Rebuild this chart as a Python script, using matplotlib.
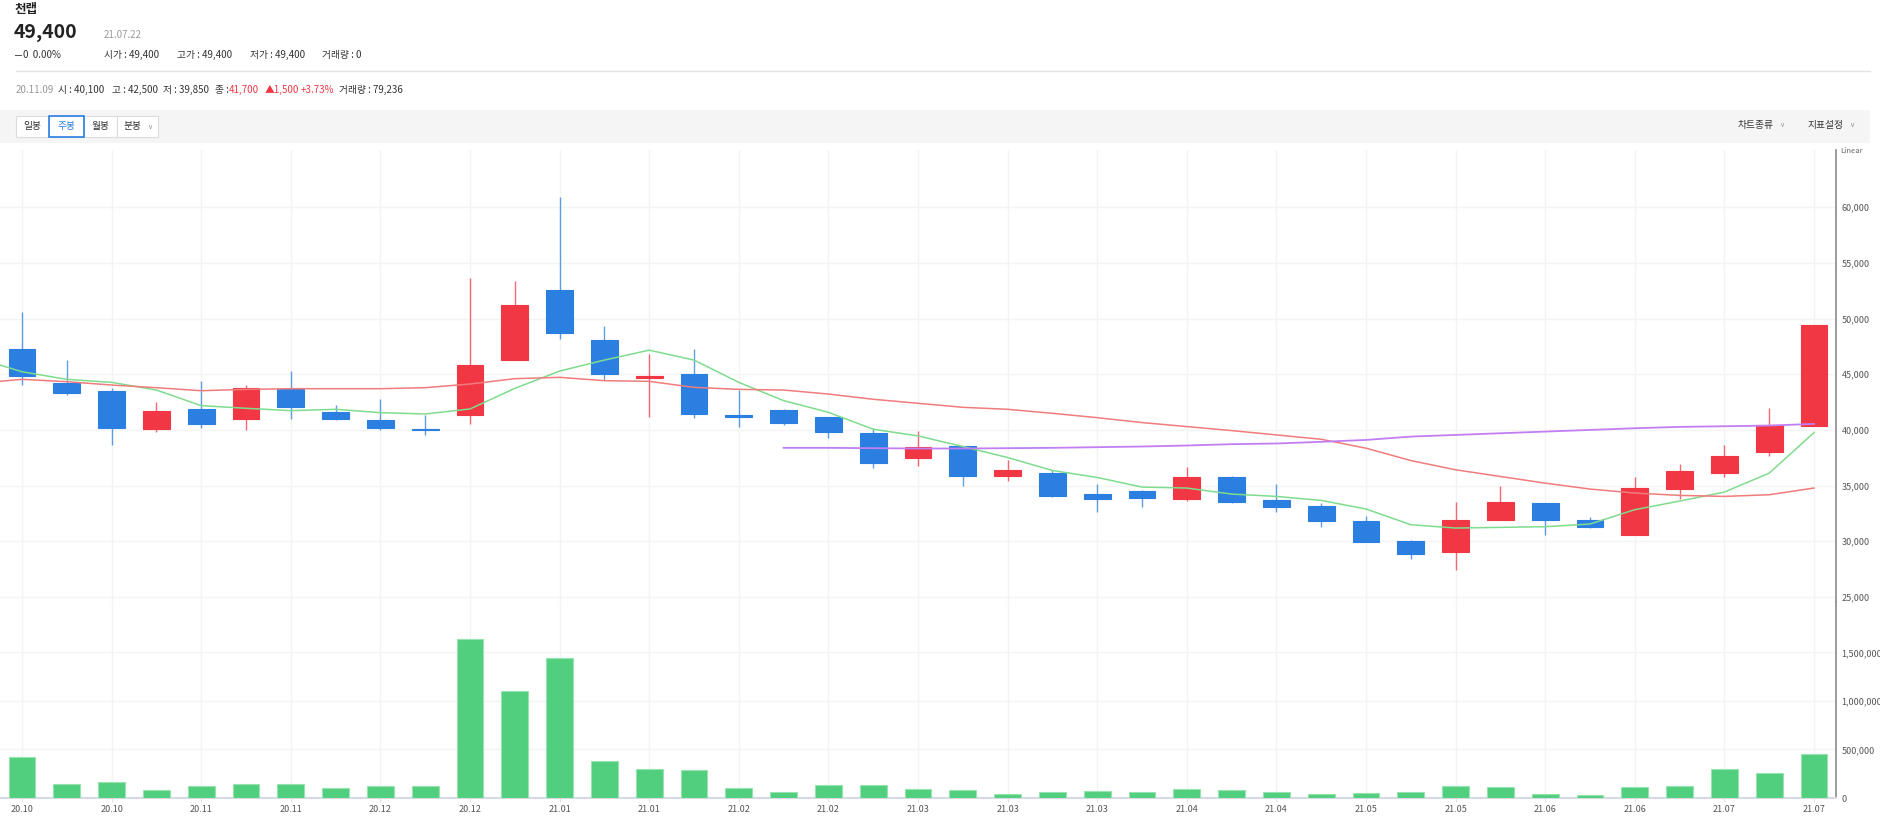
import numpy as np
import matplotlib
matplotlib.use('Agg')
import matplotlib.pyplot as plt
from matplotlib.patches import Rectangle
from matplotlib.lines import Line2D

plt.rcParams['font.family'] = ['Noto Sans CJK KR', 'DejaVu Sans']

W, H = 1880, 822

# weekly candles 20.10 ~ 21.07
opens = [47300, 44250, 43450, 40100, 41850, 40950, 43650, 41650, 40850, 40000,
         41350, 46250, 52600, 48100, 44700, 45000, 41250, 41800, 41150, 39700,
         37450, 38550, 35850, 36100, 34250, 34550, 33800, 35750, 33750, 33150,
         31850, 30000, 29000, 31900, 33450, 31950, 30550, 34700, 36100, 38000,
         40350]
highs = [50600, 46250, 43800, 42500, 44400, 44050, 45300, 42250, 42800, 41300,
         53600, 53350, 60950, 49300, 46850, 47250, 43600, 41850, 41200, 40150,
         39900, 38600, 37300, 36400, 35150, 34650, 36700, 35900, 35100, 33450,
         32300, 30150, 33500, 35000, 33450, 32200, 35750, 36950, 38650, 42000,
         49400]
lows = [44050, 43150, 38650, 39850, 40200, 39950, 41000, 40850, 40000, 39500,
        40550, 46250, 48200, 44500, 41200, 41050, 40300, 40400, 39250, 36550,
        36800, 35000, 35450, 33950, 32600, 33050, 33650, 33450, 32650, 31250,
        29950, 28450, 27400, 31900, 30550, 31150, 30550, 33800, 35750, 37650,
        40350]
closes = [44850, 43300, 40150, 41700, 40550, 43750, 42100, 40950, 40150, 39950,
          45800, 51200, 48700, 45000, 44800, 41450, 41150, 40650, 39800, 37000,
          38500, 35900, 36400, 34050, 33800, 33900, 35750, 33500, 33050, 31850,
          29950, 28850, 31950, 33500, 31900, 31300, 34750, 36350, 37700, 40400,
          49400]
volumes = [422600, 147750, 168400, 79236, 120260, 147750, 147750, 106500, 120260, 120260,
           1642400, 1106400, 1443100, 384800, 298900, 292060, 106500, 58400, 130570, 137440,
           89340, 82460, 44670, 58400, 75600, 65280, 89340, 82460, 65280, 37800,
           51540, 58400, 127130, 113390, 44670, 27490, 109950, 120260, 302370, 261140,
           453550]

# moving averages, first value is the week before the first candle
ma5 = [46450, 45220, 44540, 44270, 43580, 42180, 41940, 41730, 41850, 41550, 41430,
       41880, 43730, 45280, 46270, 47160, 46270, 44270, 42630, 41580, 40060,
       39460, 38510, 37520, 36360, 35730, 34870, 34780, 34240, 34030, 33670,
       32900, 31490, 31190, 31250, 31310, 31550, 32840, 33610, 34420, 36120,
       39760]
ma20 = [44180, 44540, 44330, 44030, 43790, 43520, 43640, 43700, 43700, 43700, 43790,
        44120, 44600, 44720, 44420, 44360, 43820, 43640, 43580, 43220, 42750,
        42390, 42030, 41850, 41490, 41100, 40660, 40300, 39940, 39550, 39160,
        38360, 37250, 36420, 35820, 35220, 34690, 34330, 34120, 34030, 34180,
        34780]
ma60_start = 17
ma60 = [38390, 38390, 38360, 38330, 38330, 38360, 38390, 38450, 38510, 38600,
        38720, 38780, 38930, 39100, 39400, 39550, 39700, 39850, 40000, 40150,
        40270, 40330, 40390, 40540]

tick_labels = ['20.10', '20.10', '20.11', '20.11', '20.12', '20.12', '21.01', '21.01',
               '21.02', '21.02', '21.03', '21.03', '21.03', '21.04', '21.04', '21.05',
               '21.05', '21.06', '21.06', '21.07', '21.07']
price_ticks = [25000, 30000, 35000, 40000, 45000, 50000, 55000, 60000]
vol_ticks = [0, 500000, 1000000, 1500000]

RED = '#f23744'
BLUE = '#2b7fe1'
VOL = '#52cf7e'
GRID = '#f4f4f4'


def fx(x):
    return x / W


def fy(y):
    return 1 - y / H


fig = plt.figure(figsize=(W / 100, H / 100), dpi=100)

ax_p = fig.add_axes([0, fy(602), fx(1836), (602 - 150) / H])
ax_v = fig.add_axes([0, fy(798), fx(1836), (798 - 602) / H], sharex=ax_p)

n = len(opens)
x = np.arange(n)

# candles
for i in range(n):
    o, h, l, c = opens[i], highs[i], lows[i], closes[i]
    col = RED if c >= o else BLUE
    ax_p.vlines(i, l, h, color=col, lw=1, alpha=0.75, zorder=2)
    ax_p.bar(i, max(abs(c - o), 150), bottom=min(o, c), width=0.6, color=col,
             edgecolor=col, lw=0.8, zorder=3)

# moving averages
ax_p.plot(np.arange(-1, n), ma5, color='#7fdc8e', lw=1.1, zorder=4)
ax_p.plot(np.arange(-1, n), ma20, color='#f07c7c', lw=1.1, zorder=4)
ax_p.plot(np.arange(ma60_start, ma60_start + len(ma60)), ma60, color='#c27ef2', lw=1.3, zorder=4)

# volume
ax_v.bar(x, volumes, width=0.6, color=VOL, edgecolor='#98e2b0', lw=0.8, zorder=3)

ax_p.set_xlim(-22 / 44.8, (1836 - 22) / 44.8)
ax_p.set_ylim(24550, 65130)
ax_v.set_ylim(0, 2019000)

for ax in (ax_p, ax_v):
    ax.set_xticks(np.arange(0, n, 2))
    ax.yaxis.tick_right()
    ax.grid(True, color=GRID, lw=1, zorder=0)
    ax.set_axisbelow(True)
    ax.spines['left'].set_visible(False)
    ax.spines['top'].set_visible(False)
    ax.spines['right'].set_color('#8a8a8a')
    ax.spines['right'].set_linewidth(1.2)
    ax.tick_params(axis='y', length=0, pad=4, labelsize=6.5, colors='#555555')

ax_p.set_yticks(price_ticks)
ax_p.set_yticklabels([f'{v:,}' for v in price_ticks])
ax_p.tick_params(axis='x', length=0, labelbottom=False)
ax_p.spines['bottom'].set_color('#e6e6e6')

ax_v.set_yticks(vol_ticks)
ax_v.set_yticklabels([f'{v:,}' for v in vol_ticks])
ax_v.set_xticklabels(tick_labels)
ax_v.tick_params(axis='x', length=3, width=0.8, color='#dfe2ea', pad=2,
                 labelsize=6.5, labelcolor='#555555')
ax_v.spines['bottom'].set_color('#d6dae6')
ax_v.spines['bottom'].set_linewidth(1.5)

fig.text(fx(1840), fy(151), 'Linear', fontsize=5.5, color='#666666', va='center', ha='left')

# header
dark = '#333333'
fig.text(fx(15), fy(9), '천랩', fontsize=9, fontweight='bold', color='#222222', va='center')
fig.text(fx(14), fy(33), '49,400', fontsize=14, fontweight='bold', color='#222222', va='center')
fig.text(fx(104), fy(35), '21.07.22', fontsize=7, color='#999999', va='center')
fig.text(fx(15), fy(55), '━', fontsize=5, color=dark, va='center')
fig.text(fx(23), fy(55), '0  0.00%', fontsize=7, color=dark, va='center')
for xx, s in [(104, '시가 : 49,400'), (177, '고가 : 49,400'), (250, '저가 : 49,400'), (322, '거래량 : 0')]:
    fig.text(fx(xx), fy(55), s, fontsize=7, color=dark, va='center')

fig.add_artist(Line2D([fx(16), fx(1870)], [fy(71), fy(71)], color='#e3e3e3', lw=1))

fig.text(fx(16), fy(90), '20.11.09', fontsize=7, color='#999999', va='center')
for xx, s, col in [(58, '시 : 40,100', dark), (112, '고 : 42,500', dark), (163, '저 : 39,850', dark),
                   (215, '종 :', dark), (229, '41,700', RED), (265, '▲1,500', RED),
                   (301, '+3.73%', RED), (339, '거래량 : 79,236', dark)]:
    fig.text(fx(xx), fy(90), s, fontsize=7, color=col, va='center')

# toolbar
fig.add_artist(Rectangle((0, fy(143)), fx(1870), (143 - 110) / H, transform=fig.transFigure,
                         facecolor='#f5f5f5', edgecolor='none'))
buttons = [(16, 49, '일봉', False), (49, 84, '주봉', True), (84, 117, '월봉', False), (117, 158, '분봉', False)]
for x0, x1, s, sel in buttons:
    fig.add_artist(Rectangle((fx(x0), fy(137)), fx(x1 - x0), (137 - 116) / H, transform=fig.transFigure,
                             facecolor='white', edgecolor='#dcdcdc', lw=0.8))
for x0, x1, s, sel in buttons:
    if sel:
        fig.add_artist(Rectangle((fx(x0), fy(137)), fx(x1 - x0), (137 - 116) / H, transform=fig.transFigure,
                                 facecolor='none', edgecolor=BLUE, lw=1.2))
    cx = (x0 + x1) / 2 if s != '분봉' else 133
    fig.text(fx(cx), fy(126.5), s, fontsize=7, color=BLUE if sel else dark,
             ha='center', va='center')

# small dropdown chevrons
for xx, yy in [(147, 127), (1779, 125), (1849, 125)]:
    fig.text(fx(xx), fy(yy), '∨', fontsize=5, color='#999999', va='center', ha='left',
             family='DejaVu Sans')

fig.text(fx(1738), fy(125), '차트종류', fontsize=7, color=dark, va='center')
fig.text(fx(1808), fy(125), '지표설정', fontsize=7, color=dark, va='center')

fig.savefig('out.png', dpi=100)
